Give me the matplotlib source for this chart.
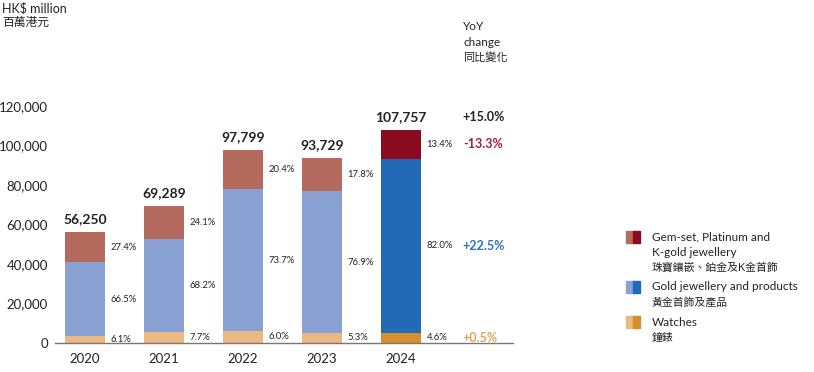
import matplotlib
matplotlib.use("Agg")
import matplotlib.pyplot as plt
from matplotlib.patches import Rectangle
import numpy as np

plt.rcParams['font.family'] = ['Lato', 'Noto Sans CJK TC', 'DejaVu Sans']

years = ['2020', '2021', '2022', '2023', '2024']
totals = [56250, 69289, 97799, 93729, 107757]
watches = [3431, 5335, 5868, 4968, 4957]
gold = [37406, 47255, 72078, 72078, 88361]
gemset = [15413, 16699, 19853, 16683, 14439]
pct_watches = ['6.1%', '7.7%', '6.0%', '5.3%', '4.6%']
pct_gold = ['66.5%', '68.2%', '73.7%', '76.9%', '82.0%']
pct_gemset = ['27.4%', '24.1%', '20.4%', '17.8%', '13.4%']
yoy_total = '+15.0%'
yoy_gemset = '-13.3%'
yoy_gold = '+22.5%'
yoy_watches = '+0.5%'

# light shades for past years, dark for latest year
c_gem = ('#b56a5e', '#8a0a1f')
c_gold = ('#89a0d3', '#226ab6')
c_watch = ('#eab880', '#d98e2e')

fig = plt.figure(figsize=(8.14, 3.72), dpi=100)
W, H = 814, 372
ax = fig.add_axes([55 / W, 29 / H, (513 - 55) / W, 237 / H])
ax.set_ylim(0, 120000)
ax.set_xlim(-0.38, 5.42)

x = np.arange(len(years))
bw = 0.506
for i in x:
    k = 1 if i == len(years) - 1 else 0
    ax.bar(i, watches[i], bw, color=c_watch[k], edgecolor='none')
    ax.bar(i, gold[i], bw, bottom=watches[i], color=c_gold[k], edgecolor='none')
    ax.bar(i, gemset[i], bw, bottom=watches[i] + gold[i], color=c_gem[k], edgecolor='none')

    # segment shares to the right of each bar
    lx = i + bw / 2 + 0.07
    ax.text(lx, watches[i] / 2 + 300, pct_watches[i], fontsize=6.8, va='center', ha='left', color='#222222')
    ax.text(lx, watches[i] + gold[i] / 2, pct_gold[i], fontsize=6.8, va='center', ha='left', color='#222222')
    ax.text(lx, watches[i] + gold[i] + gemset[i] / 2, pct_gemset[i], fontsize=6.8, va='center', ha='left', color='#222222')

    ax.annotate(f'{totals[i]:,}', (i, totals[i]), xytext=(0, 5), textcoords='offset points',
                ha='center', va='bottom', fontsize=10, fontweight='bold', color='#222222',
                annotation_clip=False)

# YoY column
yx = 4.785
last = len(years) - 1
ax.annotate(yoy_total, (yx, totals[last]), xytext=(0, 5), textcoords='offset points',
            ha='left', va='bottom', fontsize=9, fontweight='bold', color='#222222', annotation_clip=False)
ax.text(yx, watches[last] + gold[last] + gemset[last] / 2, yoy_gemset, fontsize=9, fontweight='bold',
        color='#a3203e', va='center')
ax.text(yx, watches[last] + gold[last] / 2, yoy_gold, fontsize=9, fontweight='bold',
        color='#2f72c2', va='center')
ax.text(yx, watches[last] / 2 + 300, yoy_watches, fontsize=9, fontweight='bold',
        color='#e2a357', va='center')

ax.set_xticks(x)
ax.set_xticklabels(years, fontsize=9.5, color='#222222')
ax.set_yticks(np.arange(0, 120001, 20000))
ax.set_yticklabels([f'{v:,}' for v in range(0, 120001, 20000)], fontsize=9.5, color='#222222')
ax.tick_params(length=0)
ax.tick_params(axis='x', pad=7)
ax.tick_params(axis='y', pad=5)
for s in ['top', 'right', 'left']:
    ax.spines[s].set_visible(False)
ax.spines['bottom'].set_color('#777777')
ax.spines['bottom'].set_linewidth(1)

# header texts
fig.text(2 / W, 1 - 8 / H, 'HK$ million', fontsize=9, va='center', ha='left', color='#222222')
fig.text(2 / W, 1 - 22 / H, '百萬港元', fontsize=8.5, va='center', ha='left', color='#222222')
fig.text(463 / W, 1 - 27 / H, 'YoY', fontsize=8.5, va='center', ha='left', color='#222222')
fig.text(463 / W, 1 - 43 / H, 'change', fontsize=8.5, va='center', ha='left', color='#222222')
fig.text(463 / W, 1 - 58 / H, '同比變化', fontsize=8, va='center', ha='left', color='#222222')

# legend with two-tone swatches
legend_rows = [
    (c_gem, 237, ['Gem-set, Platinum and', 'K-gold jewellery', '珠寶鑲嵌、鉑金及K金首飾']),
    (c_gold, 287, ['Gold jewellery and products', '黃金首飾及產品']),
    (c_watch, 322, ['Watches', '鐘錶']),
]
for cols, ytop, lines in legend_rows:
    fig.patches.append(Rectangle((626 / W, 1 - (ytop + 6) / H), 7 / W, 12 / H,
                                 color=cols[0], transform=fig.transFigure))
    fig.patches.append(Rectangle((633 / W, 1 - (ytop + 6) / H), 7 / W, 12 / H,
                                 color=cols[1], transform=fig.transFigure))
    for j, line in enumerate(lines):
        fs = 8.5 if line.isascii() else 7.8
        fig.text(652 / W, 1 - (ytop + 15 * j) / H, line, fontsize=fs, va='center', ha='left', color='#222222')

fig.savefig('out.png', dpi=100, facecolor='white')
